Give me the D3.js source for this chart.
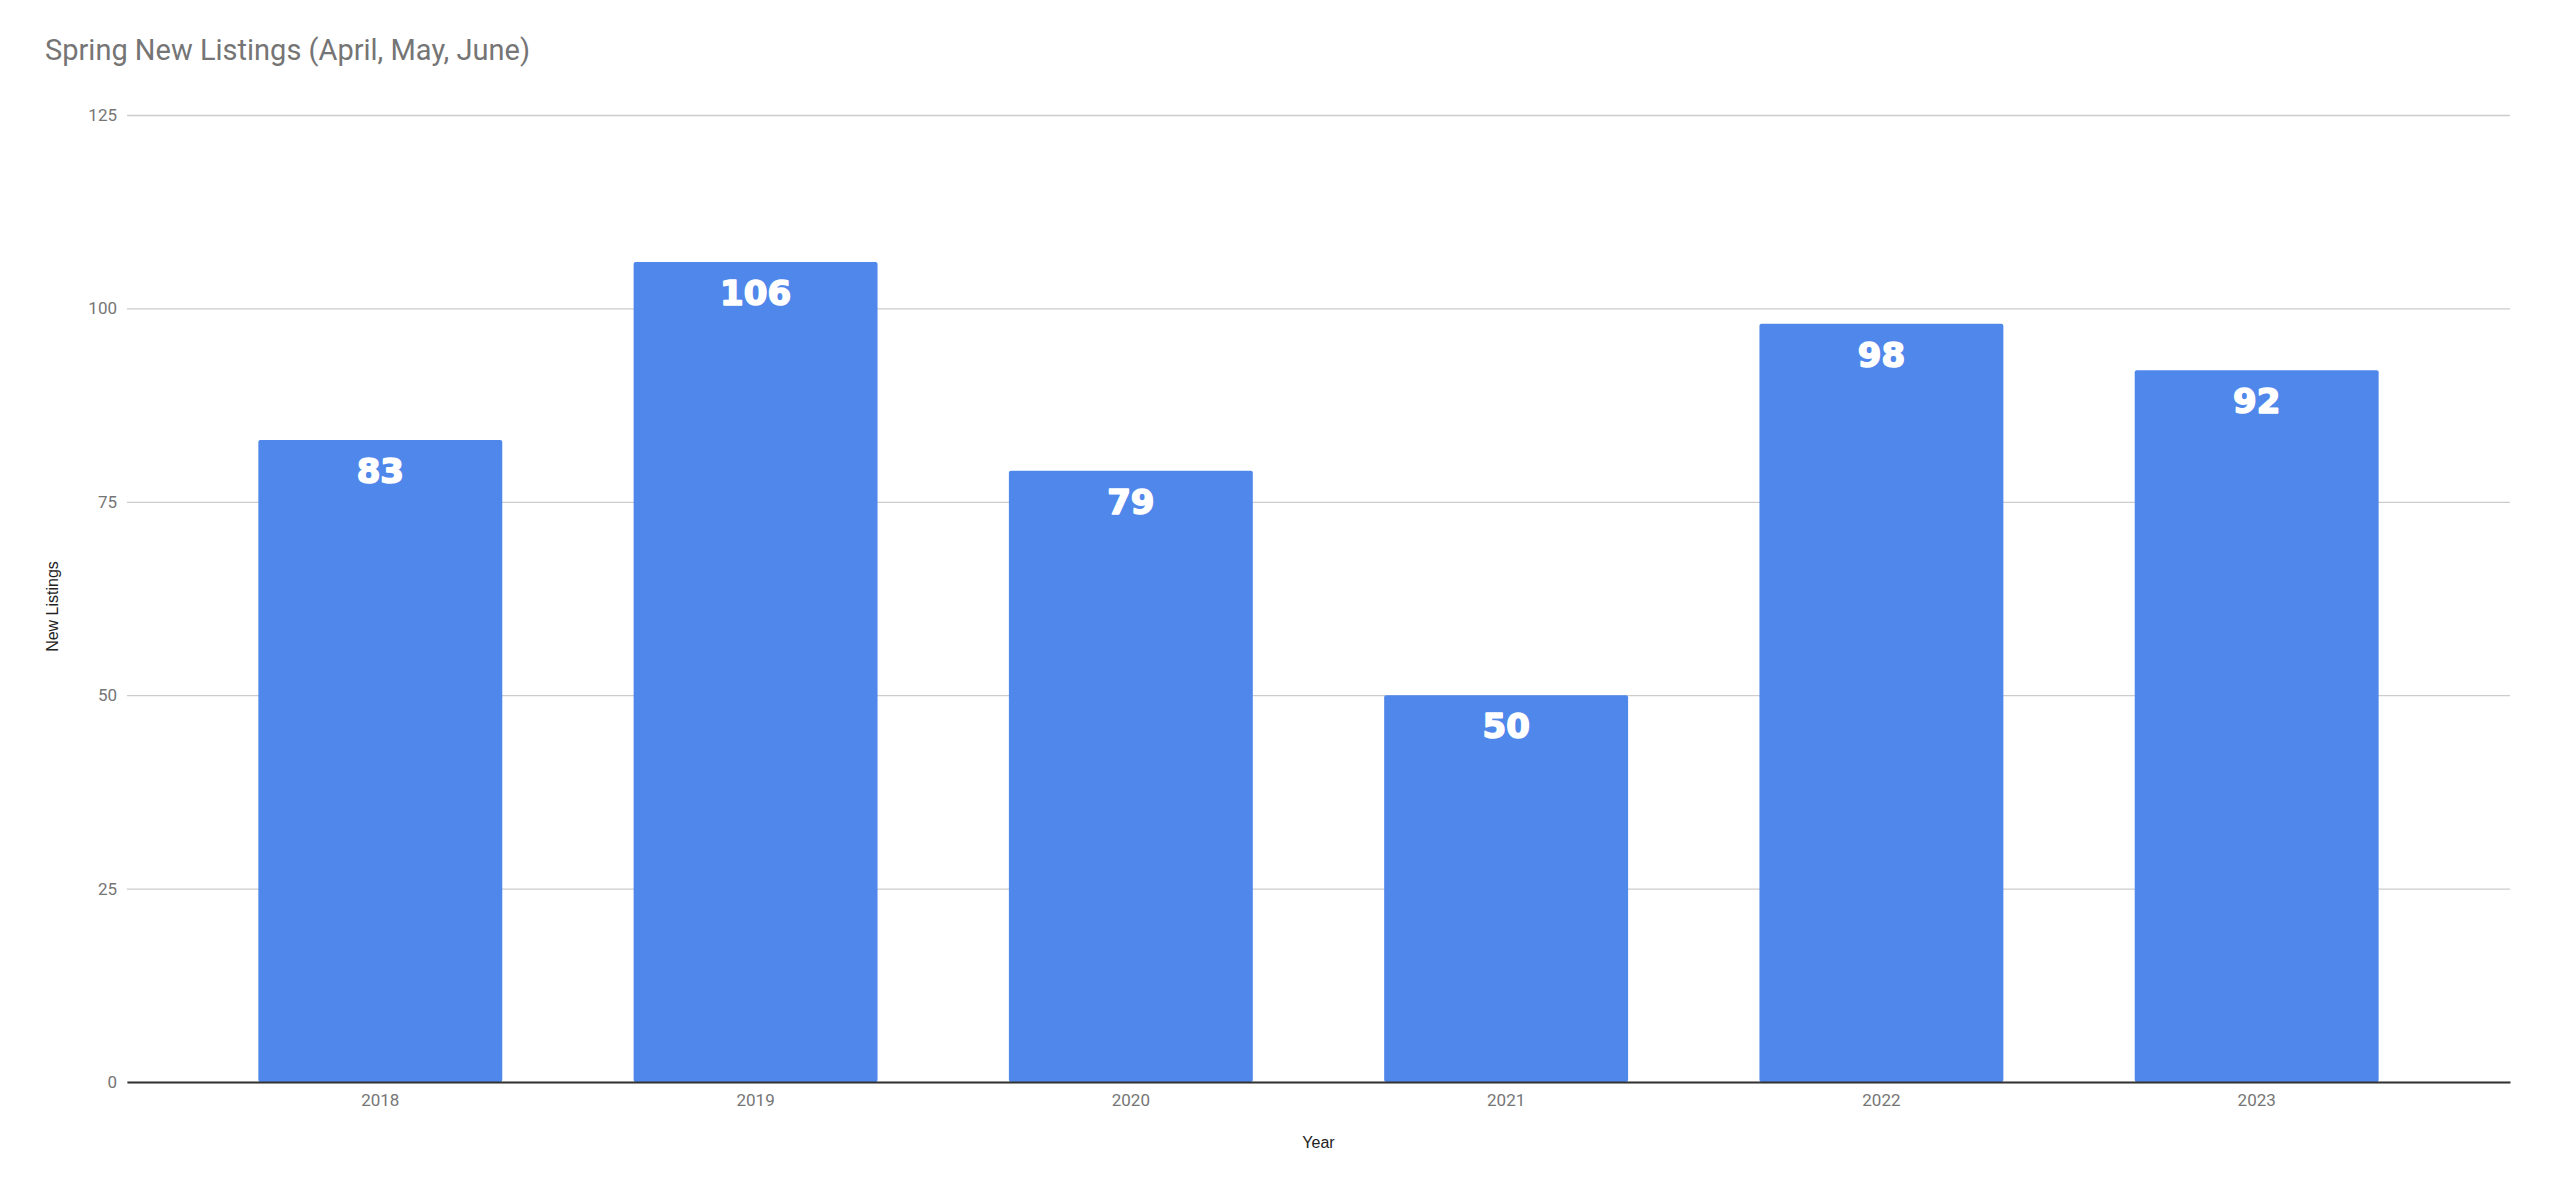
<!DOCTYPE html>
<html>
<head>
<meta charset="utf-8">
<script src="https://cdn.jsdelivr.net/npm/d3@7"></script>
<style>
  html, body { margin: 0; padding: 0; background: #fff; }
  svg { display: block; }
</style>
</head>
<body>
<svg id="chart" width="2560" height="1190"></svg>
<script>
const years = ["2018", "2019", "2020", "2021", "2022", "2023"];
const newListings = [83, 106, 79, 50, 98, 92];
const yTicks = [0, 25, 50, 75, 100, 125];
const chartTitle = "Spring New Listings (April, May, June)";
const xTitle = "Year";
const yTitle = "New Listings";

const W = 2560, H = 1190;
const m = { left: 127, right: 50, top: 115, bottom: 108 };
const svg = d3.select("#chart");

const x = d3.scaleBand().domain(years).range([m.left, W - m.right]).paddingInner(0.35).paddingOuter(0.35);
const y = d3.scaleLinear().domain([0, 125]).range([H - m.bottom, m.top]);

// title
svg.append("text").attr("x", 45).attr("y", 60)
  .attr("font-family", "Roboto").attr("font-size", 29).attr("fill", "#757575")
  .text(chartTitle);

// gridlines + y labels
const yAxis = d3.axisLeft(y).tickValues(yTicks).tickSize(-(W - m.left - m.right)).tickPadding(10);
const gy = svg.append("g").attr("transform", `translate(${m.left},0)`).call(yAxis);
gy.select(".domain").remove();
gy.selectAll(".tick line").attr("stroke", "#cccccc").attr("stroke-width", 1.3);
gy.selectAll(".tick text").attr("font-family", "Roboto").attr("font-size", 17).attr("fill", "#757575");

// bars
svg.append("g").selectAll("rect").data(years).join("rect")
  .attr("x", d => x(d))
  .attr("width", x.bandwidth())
  .attr("y", (d, i) => y(newListings[i]))
  .attr("height", (d, i) => y(0) - y(newListings[i]))
  .attr("rx", 2)
  .attr("fill", "#5087EB");

// value labels
svg.append("g").selectAll("text").data(years).join("text")
  .attr("x", d => x(d) + x.bandwidth() / 2)
  .attr("y", (d, i) => y(newListings[i]) + 43)
  .attr("text-anchor", "middle")
  .attr("font-family", "DejaVu Sans").attr("font-weight", "bold").attr("font-size", 34)
  .attr("fill", "#ffffff").attr("stroke", "#ffffff").attr("stroke-width", 1.6)
  .attr("stroke-linejoin", "round")
  .text((d, i) => newListings[i]);

// x axis
const xAxis = d3.axisBottom(x).tickSize(0).tickPadding(12);
const gx = svg.append("g").attr("transform", `translate(0,${y(0)})`).call(xAxis);
gx.select(".domain").attr("stroke", "#333333").attr("stroke-width", 2);
gx.selectAll(".tick text").attr("font-family", "Roboto").attr("font-size", 17).attr("fill", "#757575");

// axis titles
svg.append("text").attr("x", (m.left + W - m.right) / 2).attr("y", 1148)
  .attr("text-anchor", "middle").attr("font-family", "Liberation Sans").attr("font-size", 16).attr("fill", "#222222")
  .text(xTitle);
svg.append("text").attr("transform", `translate(58,${(y(0) + y(125)) / 2 + 8}) rotate(-90)`)
  .attr("text-anchor", "middle").attr("font-family", "Liberation Sans").attr("font-size", 16).attr("fill", "#222222")
  .text(yTitle);
</script>
</body>
</html>
